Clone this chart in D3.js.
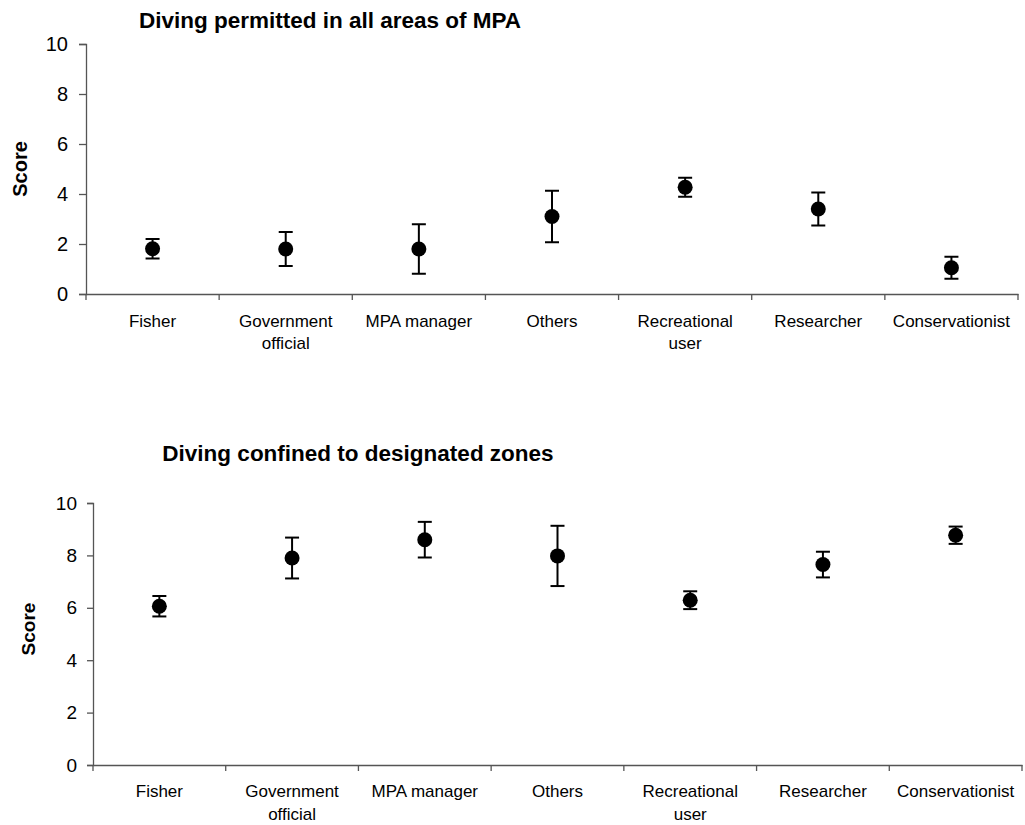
<!DOCTYPE html>
<html><head><meta charset="utf-8">
<script src="https://cdn.jsdelivr.net/npm/d3@7"></script>
<style>body{margin:0;background:#fff}svg{display:block}text{font-family:"Liberation Sans",Arial,sans-serif}</style>
</head><body><svg id="c" width="1025" height="825"></svg>
<script>
const categories = ["Fisher","Government official","MPA manager","Others","Recreational user","Researcher","Conservationist"];
const categoryLines = [["Fisher"],["Government","official"],["MPA manager"],["Others"],["Recreational","user"],["Researcher"],["Conservationist"]];
const yTicks = [0,2,4,6,8,10];
const titles = ["Diving permitted in all areas of MPA","Diving confined to designated zones"];
const yLabel = "Score";
// chart 1
const meanAll = [1.81,1.80,1.80,3.10,4.27,3.40,1.05];
const errAll  = [0.39,0.68,0.99,1.03,0.38,0.66,0.44];
// chart 2
const meanZones = [6.06,7.90,8.60,7.98,6.29,7.65,8.77];
const errZones  = [0.39,0.78,0.68,1.15,0.34,0.49,0.33];

const svg = d3.select("#c");
const panels = [
  {mean:meanAll, err:errAll, title:titles[0], x0:86, x1:1018, yTop:44, yBot:294, tickFont:20, tickLen:7, tickPad:11,
   titleX:330, titleY:28, titleFont:22.5, labelX:26.5, labelY:169, labelFont:20, catY:326.7},
  {mean:meanZones, err:errZones, title:titles[1], x0:93, x1:1022, yTop:503, yBot:765, tickFont:19, tickLen:6, tickPad:10,
   titleX:358, titleY:460.5, titleFont:22.5, labelX:35, labelY:629, labelFont:19, catY:797.3}
];
panels.forEach(p=>{
  const g = svg.append("g");
  const x = d3.scaleBand().domain(categories).range([p.x0,p.x1]).padding(0);
  const y = d3.scaleLinear().domain([0,10]).range([p.yBot,p.yTop]);
  // y axis
  const ya = g.append("g").attr("transform",`translate(${p.x0},0)`)
    .call(d3.axisLeft(y).tickValues(yTicks).tickSize(p.tickLen).tickPadding(p.tickPad));
  ya.selectAll("text").style("font-size",p.tickFont+"px").attr("fill","#000");
  ya.selectAll("line,path").attr("stroke","#555").attr("stroke-width",1.3);
  // x axis
  const xa = g.append("g").attr("transform",`translate(0,${p.yBot})`)
    .call(d3.axisBottom(x).tickSize(0).tickFormat(""));
  xa.select("path").attr("stroke","#555").attr("stroke-width",1.3);
  const bounds = categories.map(c=>x(c)).concat([p.x1]);
  xa.selectAll(".bnd").data(bounds).enter().append("line").attr("class","bnd")
    .attr("x1",d=>d).attr("x2",d=>d).attr("y1",0).attr("y2",6).attr("stroke","#555").attr("stroke-width",1.3);
  // category labels
  const cl = g.selectAll(".cat").data(categories).enter().append("text")
    .attr("text-anchor","middle").style("font-size","17px").attr("fill","#000")
    .attr("transform",c=>`translate(${x(c)+x.bandwidth()/2},${p.catY})`);
  cl.each(function(c,i){
    d3.select(this).selectAll("tspan").data(categoryLines[i]).enter().append("tspan")
      .attr("x",0).attr("dy",(d,j)=>j===0?0:22.7).text(d=>d);
  });
  // title
  g.append("text").attr("x",p.titleX).attr("y",p.titleY).attr("text-anchor","middle")
    .style("font-size",p.titleFont+"px").style("font-weight","bold").text(p.title);
  // y label
  g.append("text").attr("transform",`translate(${p.labelX},${p.labelY}) rotate(-90)`)
    .attr("text-anchor","middle").style("font-size",p.labelFont+"px").style("font-weight","bold").text(yLabel);
  // error bars
  const cx = i=>x(categories[i])+x.bandwidth()/2;
  const eb = g.selectAll(".eb").data(p.mean).enter().append("g");
  eb.append("line").attr("x1",(d,i)=>cx(i)).attr("x2",(d,i)=>cx(i))
    .attr("y1",(d,i)=>y(d+p.err[i])).attr("y2",(d,i)=>y(d-p.err[i])).attr("stroke","#000").attr("stroke-width",2);
  [1,-1].forEach(s=>{
    eb.append("line").attr("x1",(d,i)=>cx(i)-7).attr("x2",(d,i)=>cx(i)+7)
      .attr("y1",(d,i)=>y(d+s*p.err[i])).attr("y2",(d,i)=>y(d+s*p.err[i])).attr("stroke","#000").attr("stroke-width",2);
  });
  g.selectAll(".pt").data(p.mean).enter().append("circle")
    .attr("cx",(d,i)=>cx(i)).attr("cy",d=>y(d)).attr("r",7.5).attr("fill","#000");
});
</script></body></html>
